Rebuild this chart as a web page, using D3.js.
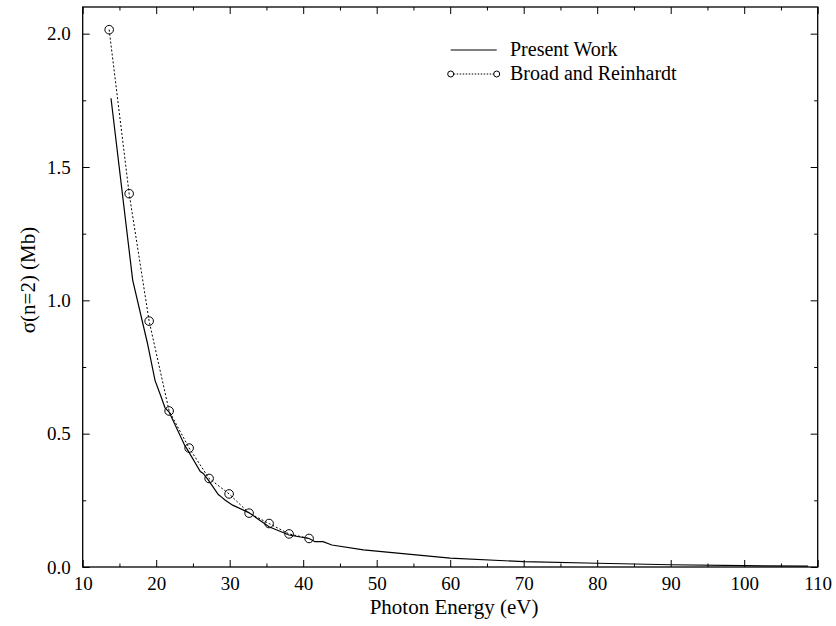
<!DOCTYPE html>
<html>
<head>
<meta charset="utf-8">
<script src="https://cdn.jsdelivr.net/npm/d3@7"></script>
<style>
  html, body { margin: 0; padding: 0; background: #fff; }
  svg { display: block; }
  text { font-family: "Liberation Serif", "Times New Roman", serif; fill: #000; }
</style>
</head>
<body>
<svg id="chart" width="836" height="626"></svg>
<script>
// ---- Data ----
const presentEnergy = [13.85, 16.8, 18.8, 19.84, 20.75, 21.2, 21.74, 23.9, 24.15, 26.0, 26.4, 27.1, 28.45, 28.9, 29.36, 30.4, 32.6, 35.35, 38.07, 40.8, 41.6, 42.7, 43.9, 48.2, 53.2, 60, 70, 80, 90, 100, 108.7];
const presentSigma  = [1.758, 1.076, 0.84, 0.70, 0.632, 0.597, 0.582, 0.455, 0.445, 0.358, 0.351, 0.326, 0.272, 0.262, 0.251, 0.232, 0.204, 0.151, 0.120, 0.107, 0.095, 0.095, 0.0825, 0.064, 0.051, 0.033, 0.020, 0.014, 0.0085, 0.005, 0.003];

const brEnergy = [13.6, 16.32, 19.04, 21.76, 24.48, 27.2, 29.92, 32.64, 35.36, 38.08, 40.8];
const brSigma  = [2.015, 1.40, 0.922, 0.585, 0.446, 0.332, 0.274, 0.202, 0.163, 0.124, 0.107];

const xMajorTicks = [10, 20, 30, 40, 50, 60, 70, 80, 90, 100, 110];
const xMinorTicks = [15, 25, 35, 45, 55, 65, 75, 85, 95, 105];
const yMajorTicks = [0.0, 0.5, 1.0, 1.5, 2.0];
const yMinorTicks = [0.25, 0.75, 1.25, 1.75];

const legendLabels = ["Present Work", "Broad and Reinhardt"];
const xTitle = "Photon Energy (eV)";
const yTitle = "σ(n=2) (Mb)";

// ---- Layout ----
const margin = { left: 82.7, top: 7, right: 836 - 817.7, bottom: 626 - 567 };
const W = 836, H = 626;
const iw = W - margin.left - margin.right;
const ih = H - margin.top - margin.bottom;

const svg = d3.select("#chart");
const g = svg.append("g").attr("transform", `translate(${margin.left},${margin.top})`);

const x = d3.scaleLinear().domain([10, 110]).range([0, iw]);
const y = d3.scaleLinear().domain([0, 2.1]).range([ih, 0]);

const tickFont = 19;
const titleFont = 21;
const legendFont = 20;

function styleAxis(sel) {
  sel.select(".domain").remove();
  sel.selectAll(".tick line").attr("stroke", "#000").attr("stroke-width", 1);
  sel.selectAll("text").style("font-size", tickFont + "px").style("font-family", '"Liberation Serif", serif').attr("fill", "#000");
}

// bottom
g.append("g").attr("transform", `translate(0,${ih})`)
  .call(d3.axisBottom(x).tickValues(xMajorTicks).tickFormat(d3.format("d")).tickSize(-7).tickPadding(10))
  .call(styleAxis);
g.append("g").attr("transform", `translate(0,${ih})`)
  .call(d3.axisBottom(x).tickValues(xMinorTicks).tickFormat("").tickSize(-3.5))
  .call(styleAxis);
// top
g.append("g")
  .call(d3.axisTop(x).tickValues(xMajorTicks).tickFormat("").tickSize(-7))
  .call(styleAxis);
g.append("g")
  .call(d3.axisTop(x).tickValues(xMinorTicks).tickFormat("").tickSize(-3.5))
  .call(styleAxis);
// left
g.append("g")
  .call(d3.axisLeft(y).tickValues(yMajorTicks).tickFormat(d3.format(".1f")).tickSize(-7).tickPadding(12))
  .call(styleAxis);
g.append("g")
  .call(d3.axisLeft(y).tickValues(yMinorTicks).tickFormat("").tickSize(-3.5))
  .call(styleAxis);
// right
g.append("g").attr("transform", `translate(${iw},0)`)
  .call(d3.axisRight(y).tickValues(yMajorTicks).tickFormat("").tickSize(-7))
  .call(styleAxis);
g.append("g").attr("transform", `translate(${iw},0)`)
  .call(d3.axisRight(y).tickValues(yMinorTicks).tickFormat("").tickSize(-3.5))
  .call(styleAxis);

// frame
g.append("rect").attr("x", 0).attr("y", 0).attr("width", iw).attr("height", ih)
  .attr("fill", "none").attr("stroke", "#000").attr("stroke-width", 1.3);

// lines
const presentData = presentEnergy.map((e, i) => [e, presentSigma[i]]);
const brData = brEnergy.map((e, i) => [e, brSigma[i]]);
const line = d3.line().x(d => x(d[0])).y(d => y(d[1]));

g.append("path").datum(presentData).attr("d", line)
  .attr("fill", "none").attr("stroke", "#000").attr("stroke-width", 1.2);

g.append("path").datum(brData).attr("d", line)
  .attr("fill", "none").attr("stroke", "#000").attr("stroke-width", 1).attr("stroke-dasharray", "2,2");

g.selectAll("circle.br").data(brData).enter().append("circle")
  .attr("class", "br")
  .attr("cx", d => x(d[0])).attr("cy", d => y(d[1])).attr("r", 4.3)
  .attr("fill", "none").attr("stroke", "#000").attr("stroke-width", 1);

// legend
const lg = svg.append("g");
const lx1 = 450.7, lx2 = 496.7, textX = 510;
lg.append("line").attr("x1", lx1).attr("x2", lx2).attr("y1", 50).attr("y2", 50)
  .attr("stroke", "#000").attr("stroke-width", 1.2);
lg.append("text").attr("x", textX).attr("y", 56).style("font-size", legendFont + "px").text(legendLabels[0]);
lg.append("line").attr("x1", lx1).attr("x2", lx2).attr("y1", 74).attr("y2", 74)
  .attr("stroke", "#000").attr("stroke-width", 1).attr("stroke-dasharray", "1.5,1.5");
[lx1, lx2].forEach(cx => {
  lg.append("circle").attr("cx", cx).attr("cy", 74).attr("r", 3)
    .attr("fill", "#fff").attr("stroke", "#000").attr("stroke-width", 1);
});
lg.append("text").attr("x", textX).attr("y", 80).style("font-size", legendFont + "px").text(legendLabels[1]);

// titles
svg.append("text").attr("x", 454).attr("y", 614)
  .attr("text-anchor", "middle").style("font-size", titleFont + "px").text(xTitle);
svg.append("text").attr("transform", `translate(35,280) rotate(-90)`)
  .attr("text-anchor", "middle").style("font-size", titleFont + "px").text(yTitle);
</script>
</body>
</html>
